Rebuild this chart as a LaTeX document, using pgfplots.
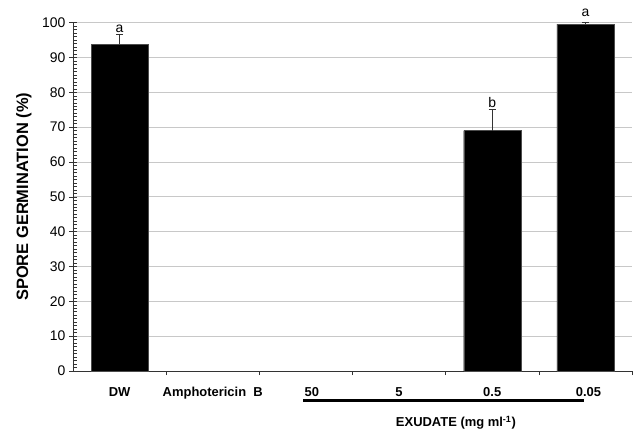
\documentclass[border=0pt]{standalone}
\usepackage{fontspec}
\setmainfont{Liberation Sans}
\usepackage{pgfplots}
\pgfplotsset{compat=1.18}
\definecolor{gridgray}{HTML}{C8C8C8}
\definecolor{axgray}{HTML}{333333}
\begin{document}
\begin{tikzpicture}
\begin{axis}[name=ax,
  scale only axis, width=559bp, height=348.3bp,
  xmin=-0.5, xmax=5.5, ymin=0, ymax=100,
  axis x line=bottom, axis y line=left,
  axis line style={-, draw=axgray, line width=0.8pt},
  ytick={0,10,...,100}, minor y tick num=9,
  ymajorgrids, grid style={draw=gridgray, line width=0.8pt},
  ytick align=center, major tick length=8bp, minor tick length=4bp,
  tick style={draw=axgray, line width=0.6pt},
  minor y tick style={xshift=2bp},
  xtick={0,...,5}, xtick align=outside,
  xticklabels={DW, Amphotericin\ \ B, \hspace*{12bp}50, 5, 0.5, \hspace*{6bp}0.05},
  x tick style={draw=none},
  minor xtick={0.5,1.5,...,5.5},
  minor x tick style={draw=axgray, line width=0.6pt},
  xticklabel style={font=\fontsize{13}{15}\selectfont\bfseries, yshift=-5bp},
  yticklabel style={font=\fontsize{14}{16}\selectfont},
  /pgf/number format/assume math mode=true,
  ylabel={SPORE GERMINATION (\%)},
  ylabel style={font=\fontsize{16.5}{19}\selectfont\bfseries, at={(axis description cs:-0.0877,0.5)}, anchor=center},
  clip=false,
]
\addplot[ybar, bar width=57bp, fill=black, draw=black!70,
  error bars/.cd, y dir=plus, y explicit,
  error bar style={draw=axgray, line width=0.7pt},
  error mark options={draw=axgray, line width=0.7pt, mark size=3.5bp, rotate=90}]
  coordinates {(0,93.8) +- (0,2.9) (4,69.0) +- (0,6.2) (5,99.6) +- (0,0.4)};
\node[anchor=south, inner sep=1.5bp, font=\fontsize{14}{16}\selectfont] at (axis cs:0,96.7) {a};
\node[anchor=south, inner sep=1.5bp, font=\fontsize{14}{16}\selectfont] at (axis cs:4,75.2) {b};
\node[anchor=south, inner sep=1bp, font=\fontsize{14}{16}\selectfont] at (axis cs:5,101.5) {a};
\draw[black, line width=3bp] (axis cs:1.97,-8.6) -- (axis cs:4.98,-8.6);
\node[font=\fontsize{13}{15}\selectfont\bfseries] at (axis cs:3.61,-14.9) {EXUDATE (mg ml\textsuperscript{-1})};
\end{axis}
\pgfresetboundingbox
\path[use as bounding box] ([shift={(-73bp,-60bp)}]ax.south west) rectangle ([shift={(563bp,371bp)}]ax.south west);
\end{tikzpicture}
\end{document}
